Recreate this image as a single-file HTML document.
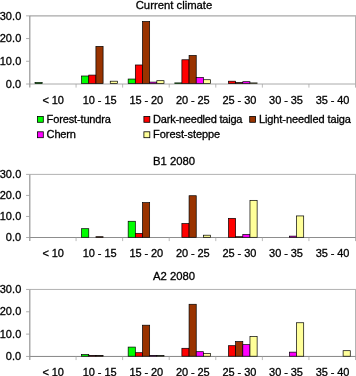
<!DOCTYPE html>
<html><head><meta charset="utf-8"><title>chart</title>
<style>
html,body{margin:0;padding:0;background:#fff;}
svg{display:block;will-change:transform;}
text{font-family:"Liberation Sans",Arial,sans-serif;font-size:11px;fill:#000;letter-spacing:-0.08px;stroke:#000;stroke-width:0.3px;}
text.y{letter-spacing:0.05px;}
text.t{font-size:11.3px;letter-spacing:0;}
</style></head><body>
<svg width="356" height="376" viewBox="0 0 356 376">
<rect width="356" height="376" fill="#fff"/>
<path d="M29.5 15.85H356.0" fill="none" stroke="#a8a8a8" stroke-width="1.3"/>
<path d="M355.5 15.85V87.6" fill="none" stroke="#b4b4b4" stroke-width="1"/>
<path d="M29.5 84.0H355.5" fill="none" stroke="#aaa" stroke-width="1.0"/>
<rect x="35.02" y="82.55" width="7.16" height="0.95" fill="#00ff00" stroke="#000" stroke-width="0.7"/>
<rect x="81.60" y="76.00" width="7.16" height="7.50" fill="#00ff00" stroke="#000" stroke-width="0.7"/>
<rect x="88.76" y="75.09" width="7.16" height="8.41" fill="#ff0000" stroke="#000" stroke-width="0.7"/>
<rect x="95.92" y="46.39" width="7.16" height="37.11" fill="#993300" stroke="#000" stroke-width="0.7"/>
<rect x="110.25" y="81.19" width="7.16" height="2.31" fill="#ffff99" stroke="#000" stroke-width="0.7"/>
<rect x="128.17" y="79.04" width="7.16" height="4.46" fill="#00ff00" stroke="#000" stroke-width="0.7"/>
<rect x="135.33" y="64.98" width="7.16" height="18.52" fill="#ff0000" stroke="#000" stroke-width="0.7"/>
<rect x="142.50" y="21.46" width="7.16" height="62.04" fill="#993300" stroke="#000" stroke-width="0.7"/>
<rect x="149.66" y="82.10" width="7.16" height="1.40" fill="#ff00ff" stroke="#000" stroke-width="0.7"/>
<rect x="156.83" y="80.69" width="7.16" height="2.81" fill="#ffff99" stroke="#000" stroke-width="0.7"/>
<rect x="174.74" y="82.90" width="7.16" height="0.60" fill="#00ff00" stroke="#000" stroke-width="0.7"/>
<rect x="181.90" y="59.77" width="7.16" height="23.73" fill="#ff0000" stroke="#000" stroke-width="0.7"/>
<rect x="189.07" y="55.46" width="7.16" height="28.04" fill="#993300" stroke="#000" stroke-width="0.7"/>
<rect x="196.23" y="77.45" width="7.16" height="6.05" fill="#ff00ff" stroke="#000" stroke-width="0.7"/>
<rect x="203.40" y="79.72" width="7.16" height="3.78" fill="#ffff99" stroke="#000" stroke-width="0.7"/>
<rect x="228.47" y="81.19" width="7.16" height="2.31" fill="#ff0000" stroke="#000" stroke-width="0.7"/>
<rect x="235.64" y="82.51" width="7.16" height="0.99" fill="#993300" stroke="#000" stroke-width="0.7"/>
<rect x="242.80" y="81.69" width="7.16" height="1.81" fill="#ff00ff" stroke="#000" stroke-width="0.7"/>
<rect x="249.97" y="82.90" width="7.16" height="0.60" fill="#ffff99" stroke="#000" stroke-width="0.7"/>
<path d="M29.8 15.85V87.6" fill="none" stroke="#959595" stroke-width="1.2"/>
<path d="M26.1 15.85H29.5" stroke="#999" stroke-width="0.8"/>
<path d="M26.1 38.57H29.5" stroke="#999" stroke-width="0.8"/>
<path d="M26.1 61.28H29.5" stroke="#999" stroke-width="0.8"/>
<path d="M26.1 84.00H29.5" stroke="#999" stroke-width="0.8"/>
<text x="21.3" y="19.55" text-anchor="end" class="y">30.0</text>
<text x="21.3" y="42.27" text-anchor="end" class="y">20.0</text>
<text x="21.3" y="64.98" text-anchor="end" class="y">10.0</text>
<text x="21.3" y="87.70" text-anchor="end" class="y">0.0</text>
<path d="M76.07 84.0V87.6" stroke="#a4a4a4" stroke-width="0.75"/>
<path d="M122.64 84.0V87.6" stroke="#a4a4a4" stroke-width="0.75"/>
<path d="M169.21 84.0V87.6" stroke="#a4a4a4" stroke-width="0.75"/>
<path d="M215.79 84.0V87.6" stroke="#a4a4a4" stroke-width="0.75"/>
<path d="M262.36 84.0V87.6" stroke="#a4a4a4" stroke-width="0.75"/>
<path d="M308.93 84.0V87.6" stroke="#a4a4a4" stroke-width="0.75"/>
<text x="53.09" y="103.5" text-anchor="middle">&lt; 10</text>
<text x="99.66" y="103.5" text-anchor="middle">10 - 15</text>
<text x="146.23" y="103.5" text-anchor="middle">15 - 20</text>
<text x="192.80" y="103.5" text-anchor="middle">20 - 25</text>
<text x="239.37" y="103.5" text-anchor="middle">25 - 30</text>
<text x="285.94" y="103.5" text-anchor="middle">30 - 35</text>
<text x="332.51" y="103.5" text-anchor="middle">35 - 40</text>
<text x="174" y="8.6" text-anchor="middle" class="t">Current climate</text>
<path d="M29.5 174.4H356.0" fill="none" stroke="#a8a8a8" stroke-width="0.9"/>
<path d="M355.5 174.4V241.1" fill="none" stroke="#b4b4b4" stroke-width="1"/>
<path d="M29.5 237.5H355.5" fill="none" stroke="#808080" stroke-width="0.9"/>
<rect x="81.60" y="228.70" width="7.16" height="8.60" fill="#00ff00" stroke="#000" stroke-width="0.7"/>
<rect x="95.92" y="236.70" width="7.16" height="0.60" fill="#993300" stroke="#000" stroke-width="0.7"/>
<rect x="128.17" y="221.27" width="7.16" height="16.03" fill="#00ff00" stroke="#000" stroke-width="0.7"/>
<rect x="135.33" y="233.40" width="7.16" height="3.90" fill="#ff0000" stroke="#000" stroke-width="0.7"/>
<rect x="142.50" y="202.64" width="7.16" height="34.66" fill="#993300" stroke="#000" stroke-width="0.7"/>
<rect x="181.90" y="223.57" width="7.16" height="13.73" fill="#ff0000" stroke="#000" stroke-width="0.7"/>
<rect x="189.07" y="195.73" width="7.16" height="41.57" fill="#993300" stroke="#000" stroke-width="0.7"/>
<rect x="203.40" y="235.20" width="7.16" height="2.10" fill="#ffff99" stroke="#000" stroke-width="0.7"/>
<rect x="228.47" y="218.34" width="7.16" height="18.96" fill="#ff0000" stroke="#000" stroke-width="0.7"/>
<rect x="235.64" y="236.70" width="7.16" height="0.60" fill="#993300" stroke="#000" stroke-width="0.7"/>
<rect x="242.80" y="234.56" width="7.16" height="2.74" fill="#ff00ff" stroke="#000" stroke-width="0.7"/>
<rect x="249.97" y="200.34" width="7.16" height="36.96" fill="#ffff99" stroke="#000" stroke-width="0.7"/>
<rect x="289.38" y="236.13" width="7.16" height="1.17" fill="#ff00ff" stroke="#000" stroke-width="0.7"/>
<rect x="296.54" y="215.93" width="7.16" height="21.37" fill="#ffff99" stroke="#000" stroke-width="0.7"/>
<path d="M29.8 174.4V241.1" fill="none" stroke="#959595" stroke-width="1.2"/>
<path d="M26.1 174.40H29.5" stroke="#999" stroke-width="0.8"/>
<path d="M26.1 195.43H29.5" stroke="#999" stroke-width="0.8"/>
<path d="M26.1 216.47H29.5" stroke="#999" stroke-width="0.8"/>
<path d="M26.1 237.50H29.5" stroke="#999" stroke-width="0.8"/>
<text x="21.3" y="178.10" text-anchor="end" class="y">30.0</text>
<text x="21.3" y="199.13" text-anchor="end" class="y">20.0</text>
<text x="21.3" y="220.17" text-anchor="end" class="y">10.0</text>
<text x="21.3" y="241.20" text-anchor="end" class="y">0.0</text>
<path d="M76.07 237.5V241.1" stroke="#a4a4a4" stroke-width="0.75"/>
<path d="M122.64 237.5V241.1" stroke="#a4a4a4" stroke-width="0.75"/>
<path d="M169.21 237.5V241.1" stroke="#a4a4a4" stroke-width="0.75"/>
<path d="M215.79 237.5V241.1" stroke="#a4a4a4" stroke-width="0.75"/>
<path d="M262.36 237.5V241.1" stroke="#a4a4a4" stroke-width="0.75"/>
<path d="M308.93 237.5V241.1" stroke="#a4a4a4" stroke-width="0.75"/>
<text x="53.09" y="256.7" text-anchor="middle">&lt; 10</text>
<text x="99.66" y="256.7" text-anchor="middle">10 - 15</text>
<text x="146.23" y="256.7" text-anchor="middle">15 - 20</text>
<text x="192.80" y="256.7" text-anchor="middle">20 - 25</text>
<text x="239.37" y="256.7" text-anchor="middle">25 - 30</text>
<text x="285.94" y="256.7" text-anchor="middle">30 - 35</text>
<text x="332.51" y="256.7" text-anchor="middle">35 - 40</text>
<text x="174" y="165" text-anchor="middle" class="t">B1 2080</text>
<path d="M29.5 289.45H356.0" fill="none" stroke="#a8a8a8" stroke-width="0.9"/>
<path d="M355.5 289.45V360.05" fill="none" stroke="#b4b4b4" stroke-width="1"/>
<path d="M29.5 356.45H355.5" fill="none" stroke="#787878" stroke-width="0.9"/>
<rect x="81.60" y="354.60" width="7.16" height="1.60" fill="#00ff00" stroke="#000" stroke-width="0.7"/>
<rect x="88.76" y="355.60" width="7.16" height="0.60" fill="#ff0000" stroke="#000" stroke-width="0.7"/>
<rect x="95.92" y="355.49" width="7.16" height="0.71" fill="#993300" stroke="#000" stroke-width="0.7"/>
<rect x="128.17" y="347.09" width="7.16" height="9.11" fill="#00ff00" stroke="#000" stroke-width="0.7"/>
<rect x="135.33" y="352.70" width="7.16" height="3.50" fill="#ff0000" stroke="#000" stroke-width="0.7"/>
<rect x="142.50" y="325.20" width="7.16" height="31.00" fill="#993300" stroke="#000" stroke-width="0.7"/>
<rect x="149.66" y="355.60" width="7.16" height="0.60" fill="#ff00ff" stroke="#000" stroke-width="0.7"/>
<rect x="156.83" y="355.60" width="7.16" height="0.60" fill="#ffff99" stroke="#000" stroke-width="0.7"/>
<rect x="181.90" y="348.29" width="7.16" height="7.91" fill="#ff0000" stroke="#000" stroke-width="0.7"/>
<rect x="189.07" y="304.27" width="7.16" height="51.93" fill="#993300" stroke="#000" stroke-width="0.7"/>
<rect x="196.23" y="351.70" width="7.16" height="4.50" fill="#ff00ff" stroke="#000" stroke-width="0.7"/>
<rect x="203.40" y="353.42" width="7.16" height="2.78" fill="#ffff99" stroke="#000" stroke-width="0.7"/>
<rect x="228.47" y="345.69" width="7.16" height="10.51" fill="#ff0000" stroke="#000" stroke-width="0.7"/>
<rect x="235.64" y="341.57" width="7.16" height="14.63" fill="#993300" stroke="#000" stroke-width="0.7"/>
<rect x="242.80" y="344.66" width="7.16" height="11.54" fill="#ff00ff" stroke="#000" stroke-width="0.7"/>
<rect x="249.97" y="336.56" width="7.16" height="19.64" fill="#ffff99" stroke="#000" stroke-width="0.7"/>
<rect x="289.38" y="352.15" width="7.16" height="4.05" fill="#ff00ff" stroke="#000" stroke-width="0.7"/>
<rect x="296.54" y="322.75" width="7.16" height="33.45" fill="#ffff99" stroke="#000" stroke-width="0.7"/>
<rect x="343.11" y="350.70" width="7.16" height="5.50" fill="#ffff99" stroke="#000" stroke-width="0.7"/>
<path d="M29.8 289.45V360.05" fill="none" stroke="#959595" stroke-width="1.2"/>
<path d="M26.1 289.45H29.5" stroke="#999" stroke-width="0.8"/>
<path d="M26.1 311.78H29.5" stroke="#999" stroke-width="0.8"/>
<path d="M26.1 334.12H29.5" stroke="#999" stroke-width="0.8"/>
<path d="M26.1 356.45H29.5" stroke="#999" stroke-width="0.8"/>
<text x="21.3" y="293.15" text-anchor="end" class="y">30.0</text>
<text x="21.3" y="315.48" text-anchor="end" class="y">20.0</text>
<text x="21.3" y="337.82" text-anchor="end" class="y">10.0</text>
<text x="21.3" y="360.15" text-anchor="end" class="y">0.0</text>
<path d="M76.07 356.45V360.05" stroke="#a4a4a4" stroke-width="0.75"/>
<path d="M122.64 356.45V360.05" stroke="#a4a4a4" stroke-width="0.75"/>
<path d="M169.21 356.45V360.05" stroke="#a4a4a4" stroke-width="0.75"/>
<path d="M215.79 356.45V360.05" stroke="#a4a4a4" stroke-width="0.75"/>
<path d="M262.36 356.45V360.05" stroke="#a4a4a4" stroke-width="0.75"/>
<path d="M308.93 356.45V360.05" stroke="#a4a4a4" stroke-width="0.75"/>
<text x="53.09" y="376.4" text-anchor="middle">&lt; 10</text>
<text x="99.66" y="376.4" text-anchor="middle">10 - 15</text>
<text x="146.23" y="376.4" text-anchor="middle">15 - 20</text>
<text x="192.80" y="376.4" text-anchor="middle">20 - 25</text>
<text x="239.37" y="376.4" text-anchor="middle">25 - 30</text>
<text x="285.94" y="376.4" text-anchor="middle">30 - 35</text>
<text x="332.51" y="376.4" text-anchor="middle">35 - 40</text>
<text x="174" y="279.6" text-anchor="middle" class="t">A2 2080</text>
<rect x="37.4" y="116.4" width="5.9" height="5.9" fill="#00ff00" stroke="#000" stroke-width="0.8"/><text x="46.6" y="122.5" textLength="64.3">Forest-tundra</text>
<rect x="143.9" y="116.4" width="5.9" height="5.9" fill="#ff0000" stroke="#000" stroke-width="0.8"/><text x="153.1" y="122.5" textLength="89.3">Dark-needled taiga</text>
<rect x="249.70000000000002" y="116.4" width="5.9" height="5.9" fill="#993300" stroke="#000" stroke-width="0.8"/><text x="258.90000000000003" y="122.5" textLength="92">Light-needled taiga</text>
<rect x="37.4" y="131.8" width="5.9" height="5.9" fill="#ff00ff" stroke="#000" stroke-width="0.8"/><text x="46.6" y="137.9" textLength="29.3">Chern</text>
<rect x="143.9" y="131.8" width="5.9" height="5.9" fill="#ffff99" stroke="#000" stroke-width="0.8"/><text x="153.1" y="137.9" textLength="67">Forest-steppe</text>
</svg>
</body></html>
